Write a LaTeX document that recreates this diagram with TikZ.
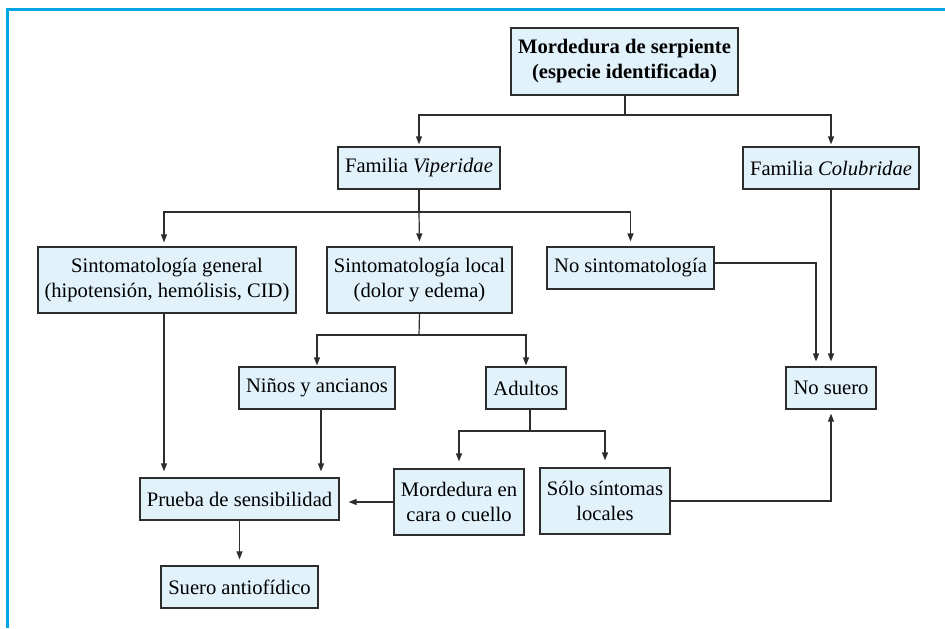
\documentclass[tikz,border=0pt]{standalone}
\usepackage{fontspec}
\setmainfont{Liberation Serif}
\usepackage{xcolor}
\usepackage{tikz}
\usetikzlibrary{arrows.meta,positioning,calc}

\definecolor{framecyan}{RGB}{0,166,228}
\definecolor{boxblue}{RGB}{225,242,251}
\definecolor{linegray}{RGB}{45,45,45}

\begin{document}
\begin{tikzpicture}[x=0.5pt,y=-0.5pt,
  font=\fontsize{10.3}{12.5}\selectfont,
  box/.style={draw=linegray,line width=0.6pt,fill=boxblue,inner sep=0pt,align=center},
  conn/.style={draw=linegray,line width=0.6pt},
  arr/.style={conn,-{Triangle[length=4pt,width=3pt]},shorten >=2.5pt}]
  \useasboundingbox (0,0) rectangle (945,628);
  % outer frame (top and left only)
  \draw[framecyan,line width=1.3pt] (7.3,628) -- (7.3,9.7) -- (945,9.7);
  % boxes
  \node[box,minimum width=113.5pt,minimum height=33.5pt,font=\fontsize{10.3}{12.5}\selectfont\bfseries]
    (serp) at (624.5,61.5) {Mordedura de serpiente\\(especie identificada)};
  \node[box,minimum width=81pt,minimum height=21pt] (vip) at (419,168) {Familia \textit{Viperidae}};
  \node[box,minimum width=88pt,minimum height=21pt] (colu) at (831,168) {Familia \textit{Colubridae}};
  \node[box,minimum width=129pt,minimum height=33pt] (gen) at (167,280)
    {Sintomatología general\\(hipotensión, hemólisis, CID)};
  \node[box,minimum width=92.5pt,minimum height=33pt] (loc) at (419.5,280)
    {Sintomatología local\\(dolor y edema)};
  \node[box,minimum width=83.5pt,minimum height=21pt] (nos) at (630.5,268) {No sintomatología};
  \node[box,minimum width=78pt,minimum height=21pt] (nin) at (317,388) {Niños y ancianos};
  \node[box,minimum width=40pt,minimum height=21pt] (adu) at (526,388) {Adultos};
  \node[box,minimum width=45pt,minimum height=21pt] (nsu) at (831,388) {No suero};
  \node[box,minimum width=65pt,minimum height=33pt] (mcc) at (459,502) {Mordedura en\\cara o cuello};
  \node[box,minimum width=65pt,minimum height=33pt] (solo) at (605,501) {Sólo síntomas\\locales};
  \node[box,minimum width=99.5pt,minimum height=21pt] (pru) at (239.5,499) {Prueba de sensibilidad};
  \node[box,minimum width=78.5pt,minimum height=21pt] (sue) at (239.5,587) {Suero antiofídico};
  % branch points
  \coordinate (j1) at (625,115);
  \coordinate (j2) at (419,212);
  \coordinate (j3) at (419,335);
  \coordinate (j4) at (530,431);
  \coordinate (g1) at ($(gen.south)+(-3,0)$);
  \coordinate (n1) at ($(nin.south)+(4,0)$);
  \coordinate (s1) at ($(nsu.north)+(-15,0)$);
  \coordinate (e1) at ($(nos.east)+(0,-5)$);
  % first level
  \draw[conn] (serp.south -| j1) -- (j1);
  \draw[arr,shorten >=1pt] (j1) -| (vip.north);
  \draw[arr,shorten >=1pt] (j1) -| (colu.north);
  % Viperidae
  \draw[conn] (vip.south) -- (j2);
  \draw[arr,shorten >=2pt] (j2) -| (g1 |- gen.north);
  \draw[arr] (j2) -- (loc.north);
  \draw[arr] (j2) -| (nos.north);
  % local symptoms
  \draw[conn] (loc.south) -- (j3);
  \draw[arr,shorten >=0.5pt] (j3) -| (nin.north);
  \draw[arr,shorten >=0.5pt] (j3) -| (adu.north);
  \draw[conn] (adu.south -| j4) -- (j4);
  \draw[arr,shorten >=3.5pt] (j4) -| (mcc.north);
  \draw[arr,shorten >=3.5pt] (j4) -| (solo.north);
  % towards the test
  \draw[arr,shorten >=3pt] (g1) -- (g1 |- pru.north);
  \draw[arr,shorten >=3pt] (n1) -- (n1 |- pru.north);
  \draw[arr,shorten >=4.5pt] (mcc.west) -- (mcc.west -| pru.east);
  \draw[arr,shorten >=3pt] (pru.south) -- (sue.north);
  % towards no serum
  \draw[arr] (e1) -| (s1);
  \draw[arr] (colu.south) -- (nsu.north);
  \draw[arr,shorten >=2pt] (solo.east) -| (nsu.south);
\end{tikzpicture}
\end{document}
